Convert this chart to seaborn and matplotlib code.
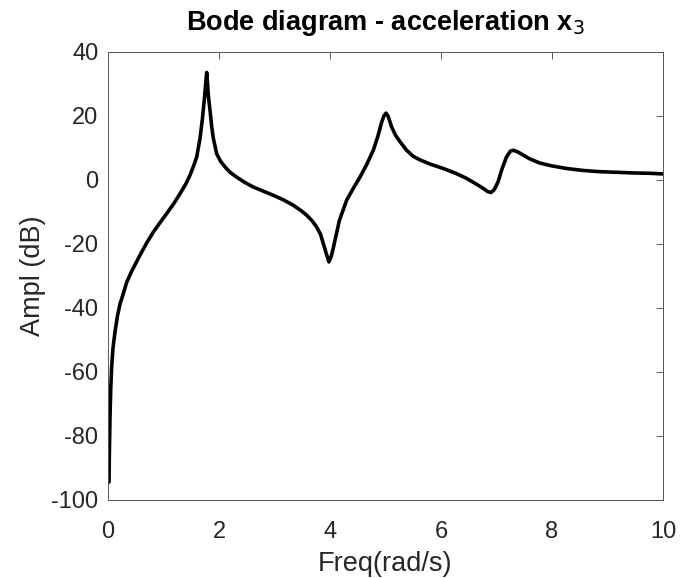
import matplotlib
matplotlib.use("Agg")
import matplotlib.pyplot as plt
import seaborn as sns
import pandas as pd

freq = [0.018, 0.024, 0.036, 0.05, 0.066, 0.09, 0.126, 0.17, 0.216, 0.276,
        0.336, 0.427, 0.516, 0.607, 0.70, 0.816, 0.93, 1.057, 1.18, 1.297,
        1.40, 1.477, 1.54, 1.598, 1.658, 1.70, 1.735, 1.76, 1.778, 1.79,
        1.81, 1.838, 1.87, 1.898, 1.958, 2.03, 2.108, 2.20, 2.318, 2.46,
        2.618, 2.80, 2.98, 3.16, 3.34, 3.48, 3.58, 3.68, 3.76, 3.83,
        3.88, 3.93, 3.98, 4.02, 4.06, 4.09, 4.17, 4.30, 4.42, 4.54,
        4.66, 4.78, 4.86, 4.93, 4.97, 5.01, 5.05, 5.11, 5.18, 5.26,
        5.38, 5.50, 5.62, 5.80, 6.04, 6.25, 6.45, 6.60, 6.75, 6.84,
        6.90, 6.96, 7.03, 7.10, 7.18, 7.25, 7.30, 7.38, 7.48, 7.60,
        7.78, 8.0, 8.26, 8.55, 8.86, 9.17, 9.47, 9.75, 10.0]
ampl = [-94.4, -86.0, -74.0, -65.0, -58.4, -52.5, -47.5, -42.5, -38.8, -35.5,
        -32.0, -28.5, -25.5, -22.5, -19.6, -16.3, -13.5, -10.5, -7.5, -4.3,
        -1.3, 1.5, 4.3, 7.2, 13.0, 19.0, 25.0, 30.0, 33.6, 31.0,
        26.0, 21.8, 16.5, 13.0, 8.2, 5.8, 4.1, 2.4, 0.9, -0.7,
        -2.2, -3.5, -4.8, -6.2, -7.9, -9.6, -11.0, -12.8, -14.7, -17.0,
        -19.9, -22.8, -25.6, -24.0, -21.2, -18.8, -12.6, -6.3, -2.6, 0.9,
        4.8, 9.3, 13.5, 18.0, 20.0, 20.9, 19.8, 16.6, 14.0, 12.0,
        9.3, 7.4, 6.3, 5.0, 3.6, 2.2, 0.6, -0.9, -2.5, -3.6,
        -3.9, -3.0, -0.5, 3.5, 7.2, 9.0, 9.3, 8.8, 7.8, 6.6,
        5.3, 4.4, 3.6, 3.0, 2.6, 2.4, 2.2, 2.1, 1.9]

xticks = [0, 2, 4, 6, 8, 10]
yticks = [-100, -80, -60, -40, -20, 0, 20, 40]

df = pd.DataFrame({"Freq": freq, "Ampl": ampl})

sns.set_theme(style="white")
plt.rcParams["font.family"] = ["Liberation Sans", "DejaVu Sans"]
plt.rcParams["axes.unicode_minus"] = False

fig = plt.figure(figsize=(6.8, 5.78), dpi=100)
ax = fig.add_axes([108 / 680, 1 - 500 / 578, 555 / 680, 448 / 578])

sns.lineplot(data=df, x="Freq", y="Ampl", ax=ax, color="black",
             linewidth=2.6, sort=False, estimator=None)

axis_col = "#262626"
spine_col = "#555555"
ax.set_xlim(0, 10)
ax.set_ylim(-100, 40)
ax.set_xticks(xticks)
ax.set_yticks(yticks)
ax.set_xticklabels([str(t) for t in xticks])
ax.set_yticklabels([str(t) for t in yticks])
ax.tick_params(direction="in", length=5, width=0.7, color=spine_col,
               labelcolor=axis_col, labelsize=17, top=True, right=True)
ax.tick_params(axis="x", pad=15)
ax.tick_params(axis="y", pad=7)
for s in ax.spines.values():
    s.set_color(spine_col)
    s.set_linewidth(0.7)
    s.set_visible(True)

ax.set_xlabel("Freq(rad/s)", fontsize=19.5, color=axis_col, labelpad=6)
ax.set_ylabel("Ampl (dB)", fontsize=19.5, color=axis_col, labelpad=4)
ax.set_title("Bode diagram - acceleration x$_3$", fontsize=19.5,
             fontweight="bold", color="black", pad=16)

fig.savefig("out.png", dpi=100)
